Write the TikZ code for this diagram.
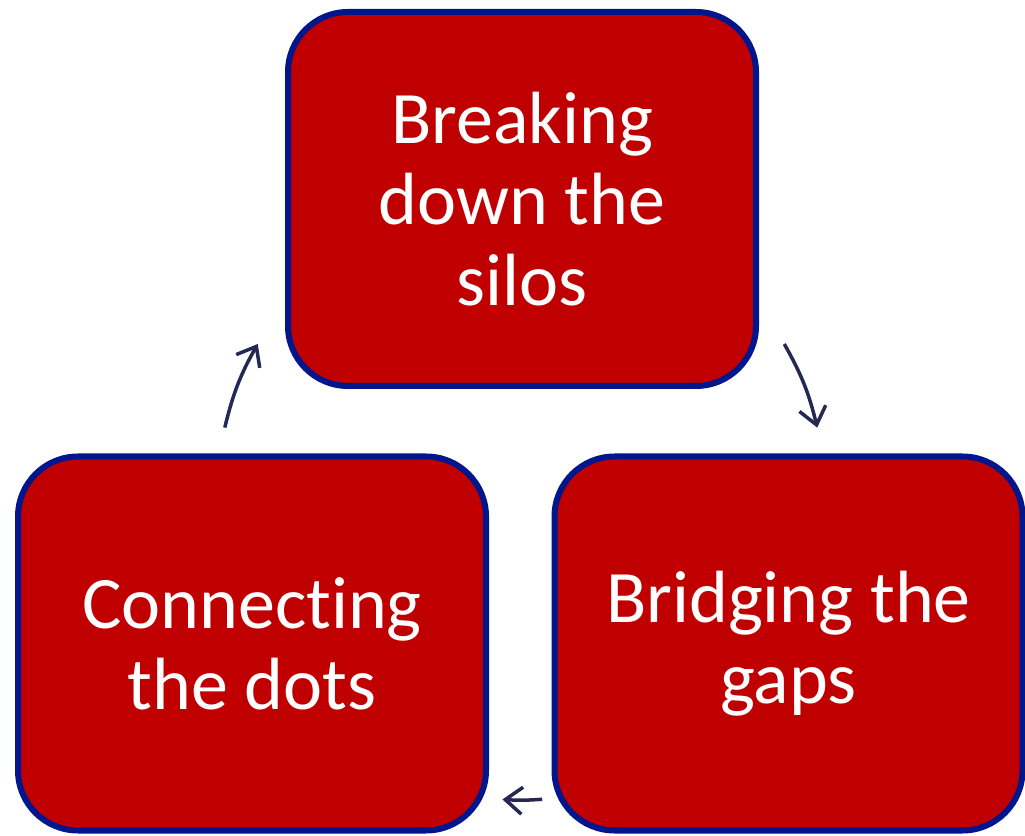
\documentclass[tikz,border=0pt]{standalone}
\usepackage{fontspec}
\setmainfont{Carlito}[Ligatures=NoCommon]
\usetikzlibrary{arrows.meta}

\begin{document}
\begin{tikzpicture}[x=1pt,y=1pt,
  stage/.style={draw=stageline,fill=stagered,line width=6pt,rounded corners=60pt,
    minimum width=468pt,minimum height=374pt,text=white,align=center,
    font=\fontsize{74}{81}\selectfont},
  cyc/.style={draw=arrowblue,line width=3.5pt,-{Straight Barb[length=17pt,width=27pt]}}]
% Define colours
\definecolor{stagered}{RGB}{192,0,0}
\definecolor{stageline}{RGB}{0,22,140}
\definecolor{arrowblue}{RGB}{38,40,84}

\useasboundingbox (0,0) rectangle (1025,835);

% Draw the three stages
\node[stage] (silos) at (522,636) {Breaking\\down the\\silos};
\node[stage] (gaps) at (788.5,191.5) {Bridging the\\gaps};
\node[stage] (dots) at (252,191.5) {Connecting\\the dots};

% Cycle centre and arrow ends
\coordinate (c) at (521,339);
\coordinate (a1s) at ([shift={(167:304)}]c);
\coordinate (a1e) at ([shift={(150:304)}]c);
\coordinate (a2s) at ([shift={(30:304)}]c);
\coordinate (a2e) at ([shift={(13:304)}]c);
\coordinate (a3s) at ([shift={(-86:304)}]c);
\coordinate (a3e) at ([shift={(-93.5:304)}]c);

% Add arrows
\draw[cyc] (a2s) to[bend left=8] (a2e);
\draw[cyc] (a3s) to[bend left=4] (a3e);
\draw[cyc] (a1s) to[bend left=8] (a1e);
\end{tikzpicture}
\end{document}
